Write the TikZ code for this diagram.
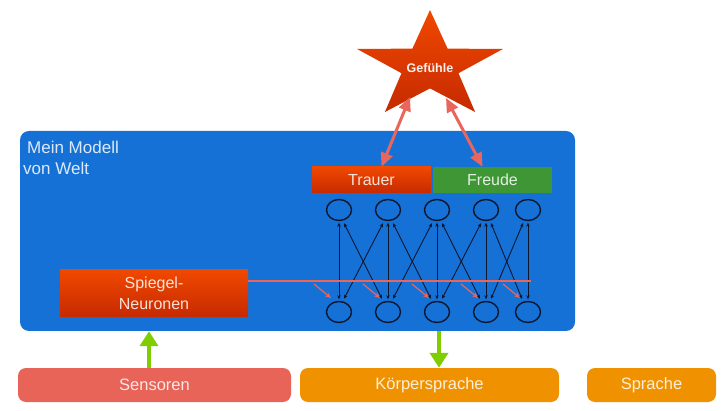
\documentclass[tikz,border=0pt]{standalone}
\usepackage{fontspec}
\setmainfont{Liberation Sans}
\usetikzlibrary{arrows.meta,shapes.geometric}
\definecolor{weltblue}{RGB}{22,113,215}
\definecolor{redtop}{RGB}{240,72,0}
\definecolor{redbot}{RGB}{198,42,0}
\definecolor{freudegreen}{RGB}{62,150,52}
\definecolor{sensred}{RGB}{232,99,88}
\definecolor{korange}{RGB}{240,146,0}
\definecolor{arrowgreen}{RGB}{128,205,0}
\definecolor{salmon}{RGB}{232,102,92}
\definecolor{netline}{RGB}{12,22,45}
\begin{document}
\begin{tikzpicture}[x=1pt,y=-1pt,
  txt/.style={text=white, text opacity=0.85, font=\fontsize{16}{21}\selectfont},
  gradbox/.style={top color=redtop, bottom color=redbot, draw=none, inner sep=0},
  bottombox/.style={rounded corners=8pt, minimum height=34, inner sep=0, txt, font=\fontsize{16.5}{20}\selectfont},
  neuron/.style={ellipse, draw=netline, line width=1.4pt, minimum width=25, minimum height=21, inner sep=0},
  netarrow/.style={draw=netline, line width=0.9pt, {Stealth[length=4pt,width=3.5pt]}-{Stealth[length=4pt,width=3.5pt]}},
  redarrow/.style={draw=salmon, line width=1.2pt, -{Stealth[length=6pt,width=5pt]}},
  bigarrow/.style={draw=salmon, line width=3pt, {Triangle[length=14pt,width=12pt]}-{Triangle[length=14pt,width=12pt]}},
  greenarrow/.style={draw=arrowgreen, line width=4.5pt, -{Triangle[length=15pt,width=18pt]}}
]
\useasboundingbox (0,0) rectangle (725,411);

% main blue box
\node[fill=weltblue, rounded corners=9pt, minimum width=555, minimum height=200, inner sep=0] (welt) at (297.5,231) {};
\node[txt, font=\fontsize{17}{21}\selectfont, align=left, anchor=north west, inner sep=0] (titel) at (23,141) {\hspace{4pt}Mein Modell\\von Welt};

% star
\path[top color=redtop, bottom color=redbot, draw=none]
  (430,10) -- (447.6,48.6) -- (502.9,49) -- (458.5,73.2) -- (475.1,112)
  -- (430,88.4) -- (384.9,112) -- (401.5,73.2) -- (357.1,49) -- (412.4,48.6) -- cycle;
\node[text=white, text opacity=0.92, font=\fontsize{12.5}{14}\selectfont\bfseries] (gef) at (430,68) {Gefühle};
\coordinate (gL) at (410,97);
\coordinate (gR) at (446,98);

% Trauer / Freude
\node[gradbox, minimum width=119, minimum height=26, txt] (trauer) at (371.5,180) {Trauer};
\node[fill=freudegreen, inner sep=0, minimum width=119, minimum height=26, txt] (freude) at (492.5,180) {Freude};

\draw[bigarrow] (gL) -- ([shift={(10,0)}]trauer.north);
\draw[bigarrow] (gR) -- ([shift={(-10,0)}]freude.north);

% neurons
\foreach \i/\x in {1/339,2/388,3/437,4/486,5/528}{
  \node[neuron] (t\i) at (\x,210) {};
  \node[neuron] (b\i) at (\x,312) {};
}
\foreach \i in {1,...,5}{
  \draw[netarrow] ([shift={(0,-1.5)}]b\i.north) -- ([shift={(0,1.5)}]t\i.south);
}
\foreach \i/\j in {1/2,2/3,3/4,4/5}{
  \draw[netarrow] ([shift={(5,2)}]t\i.south) -- ([shift={(-6,-2)}]b\j.north);
  \draw[netarrow] ([shift={(5,-2)}]b\i.north) -- ([shift={(-5,2)}]t\j.south);
}

% Spiegel-Neuronen
\node[gradbox, minimum width=188, minimum height=47, txt, align=center] (spiegel) at (154,293.5) {Spiegel-\\Neuronen};
\coordinate (redend) at (531,281);
\draw[draw=salmon, line width=2.6pt] (spiegel.east |- redend) -- (redend);
\foreach \i in {1,...,5}{
  \draw[redarrow] ([shift={(-25,-28)}]b\i.center) -- ([shift={(-8,-14)}]b\i.center);
}

% bottom boxes
\node[bottombox, fill=sensred, minimum width=273] (sens) at (154.5,385) {Sensoren};
\node[bottombox, fill=korange, minimum width=259] (koerper) at (429.5,385) {Körpersprache};
\node[bottombox, fill=korange, minimum width=129] (sprache) at (651.5,385) {Sprache};

\draw[greenarrow] ([shift={(-5.5,0)}]sens.north) -- ([shift={(-5.5,0)}]sens.north |- welt.south);
\draw[greenarrow] ([shift={(9.5,0)}]koerper.north |- welt.south) -- ([shift={(9.5,0)}]koerper.north);
\end{tikzpicture}
\end{document}
